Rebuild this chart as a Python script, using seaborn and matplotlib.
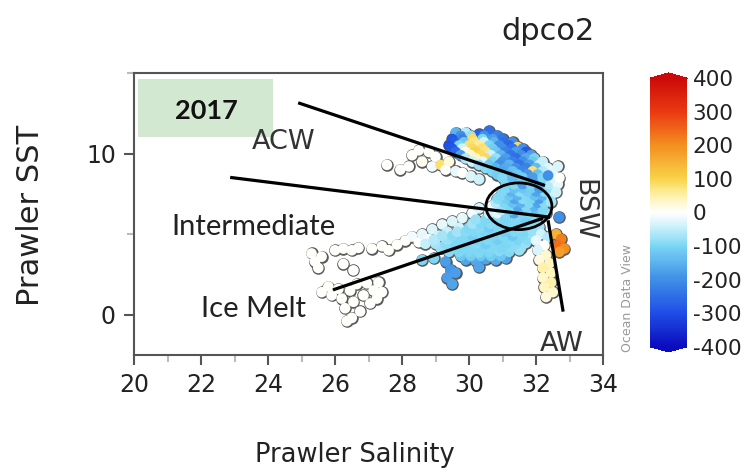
import matplotlib
matplotlib.use("Agg")
import matplotlib.pyplot as plt
import numpy as np
import pandas as pd
import seaborn as sns
from matplotlib.colors import LinearSegmentedColormap, Normalize
from matplotlib.patches import Ellipse, Rectangle
from matplotlib.ticker import MultipleLocator
from matplotlib.cm import ScalarMappable

# ---- observations: (salinity, SST, dpco2) grouped by water mass ----
ice_melt = [
    (25.6, 1.4, 0), (25.8, 1.75, 0), (25.9, 1.2, 0), (26.1, 1.6, 0), (26.2, 1.0, 0),
    (26.3, 0.4, 0), (26.45, 1.5, 0), (26.5, -0.2, 0), (26.55, 0.8, 0), (26.65, 1.9, 0),
    (26.75, 0.2, 0), (26.85, 1.2, 0), (26.95, 1.95, 0), (27.05, 0.7, 0), (27.15, 1.5, 0),
    (27.25, 1.0, 0), (27.3, 2.0, 0), (27.4, 1.4, 0), (26.35, -0.4, 0),
]
fresh_patches = [
    (25.3, 3.8, 0), (25.4, 3.3, 0), (25.5, 2.9, 0), (25.6, 3.6, 0),
    (26.25, 3.15, 0), (26.55, 2.75, 0),
    (26.0, 4.0, 0), (26.25, 4.1, 0), (26.5, 4.0, 0), (26.7, 4.15, 0),
    (27.1, 4.1, 0), (27.4, 4.25, 0), (27.6, 4.0, 0), (27.85, 4.35, 0),
]
intermediate = [
    (28.1, 4.6, 0), (28.3, 4.85, -10), (28.5, 4.5, 0), (28.6, 5.0, -20), (28.8, 4.7, -10),
    (28.9, 5.3, -30), (29.1, 4.9, -40), (29.2, 5.6, -20), (29.35, 5.15, -50), (29.5, 5.8, -30),
    (29.55, 4.7, -60), (29.7, 5.4, -40), (29.8, 6.0, -20), (29.95, 5.0, -70), (30.1, 6.3, -10),
    (30.3, 6.6, -30),
]
lower_band = [
    (29.9, 3.4, -170), (30.2, 3.35, -160), (30.5, 3.45, -170), (30.8, 3.4, -160), (31.1, 3.5, -170),
    (30.3, 2.95, -170),
    (29.75, 3.65, -120), (30.05, 3.65, -110), (30.35, 3.65, -120), (30.65, 3.65, -110), (30.95, 3.65, -120),
    (29.4, 3.9, -90), (29.7, 3.9, -95), (30.0, 3.9, -100), (30.3, 3.85, -95), (30.6, 3.9, -100),
    (30.9, 3.95, -90), (31.2, 3.9, -95), (31.5, 4.0, -80),
    (29.15, 4.15, -80), (29.45, 4.15, -90), (29.75, 4.15, -100), (30.05, 4.15, -95), (30.35, 4.15, -100),
    (30.65, 4.15, -95), (30.95, 4.15, -100), (31.25, 4.15, -90), (31.55, 4.15, -80),
    (28.7, 4.4, -50), (29.0, 4.4, -70), (29.3, 4.4, -90), (29.6, 4.4, -95), (29.9, 4.4, -100),
    (30.2, 4.4, -90), (30.5, 4.4, -110), (30.8, 4.4, -95), (31.1, 4.4, -100), (31.4, 4.4, -90),
    (31.7, 4.45, -80),
    (28.95, 4.65, -60), (29.35, 4.65, -80), (29.65, 4.65, -95), (29.95, 4.65, -95), (30.25, 4.65, -100),
    (30.55, 4.65, -95), (30.85, 4.65, -110), (31.15, 4.65, -95), (31.45, 4.65, -100), (31.75, 4.65, -90),
    (29.2, 4.9, -70), (29.5, 4.9, -90), (29.8, 4.9, -95), (30.1, 4.9, -110), (30.4, 4.9, -90),
    (30.7, 4.9, -100), (31.0, 4.9, -95), (31.3, 4.9, -120), (31.6, 4.9, -95), (31.9, 4.95, -80),
    (29.65, 5.15, -70), (29.9, 5.15, -90), (30.15, 5.15, -95), (30.45, 5.15, -100), (30.75, 5.15, -95),
    (31.05, 5.15, -110), (31.35, 5.15, -95), (31.65, 5.15, -100), (31.95, 5.15, -80),
    (30.0, 5.4, -95), (30.3, 5.4, -90), (30.6, 5.4, -110), (30.9, 5.4, -95), (31.2, 5.4, -100),
    (31.5, 5.4, -90), (31.8, 5.4, -95), (32.1, 5.45, -70),
    (30.1, 5.65, -70), (30.35, 5.65, -95), (30.65, 5.65, -90), (30.95, 5.65, -100), (31.25, 5.65, -95),
    (31.55, 5.65, -110), (31.85, 5.65, -90),
    (30.2, 5.9, -80), (30.5, 5.9, -95), (30.8, 5.9, -90), (31.1, 5.9, -100), (31.4, 5.9, -95),
    (31.7, 5.9, -110), (32.0, 5.9, -90),
    (29.3, 3.3, -180), (29.45, 2.8, -190), (29.35, 2.3, -180), (29.5, 1.9, -170), (29.6, 2.6, -180),
    (28.6, 3.4, -100), (28.95, 3.5, -100),
]
bsw_core = [
    (30.6, 6.3, -40), (30.85, 6.3, -20), (31.1, 6.3, -95), (31.35, 6.3, -170), (31.6, 6.3, -100),
    (31.85, 6.3, -90), (32.1, 6.3, -120), (32.3, 6.3, -80),
    (30.95, 6.5, -50), (31.25, 6.5, -110), (31.5, 6.5, -150), (31.75, 6.5, -100), (32.0, 6.5, -130),
    (32.2, 6.5, -95),
    (30.7, 6.75, -10), (30.95, 6.75, -80), (31.2, 6.75, -100), (31.45, 6.75, -170), (31.7, 6.75, -95),
    (31.95, 6.75, -150), (32.2, 6.75, -95),
    (30.8, 6.95, -60), (31.05, 6.95, -95), (31.3, 6.95, -130), (31.55, 6.95, -150), (31.8, 6.95, -95),
    (32.05, 6.95, -170), (32.25, 6.95, -90),
    (30.85, 7.2, -90), (31.1, 7.2, -110), (31.35, 7.2, -170), (31.6, 7.2, -90), (31.85, 7.2, -100),
    (32.1, 7.2, -180), (32.35, 7.2, -95),
    (30.95, 7.4, -95), (31.2, 7.4, -120), (31.45, 7.4, -150), (31.7, 7.4, -95), (31.95, 7.4, -130),
    (32.2, 7.4, -150), (32.45, 7.4, -70),
    (31.0, 7.65, -95), (31.25, 7.65, -150), (31.5, 7.65, -90), (31.75, 7.65, -110), (32.0, 7.65, -170),
    (32.25, 7.65, -90), (32.5, 7.65, -50),
    (31.1, 7.85, -95), (31.35, 7.85, -130), (31.6, 7.85, -120), (31.85, 7.85, -110), (32.1, 7.85, -180),
    (32.35, 7.85, -80),
    (31.1, 8.1, -100), (31.35, 8.1, -95), (31.6, 8.1, -180), (31.85, 8.1, -100), (32.1, 8.1, -160),
    (32.4, 8.1, -60), (32.65, 8.1, -20),
]
acw = [
    (29.6, 11.3, -150), (29.9, 11.3, -60), (30.3, 11.2, -270), (30.6, 11.4, -250),
    (29.75, 11.1, -200), (30.05, 11.1, -80), (30.45, 11.1, -200), (30.85, 11.1, -220),
    (29.5, 10.9, -290), (29.8, 10.9, -220), (30.1, 10.9, 90), (30.4, 10.9, -100), (30.7, 10.9, -180),
    (31.0, 10.9, -240),
    (29.55, 10.7, -280), (29.85, 10.7, -120), (30.15, 10.7, 70), (30.45, 10.7, -40), (30.75, 10.7, -150),
    (31.05, 10.7, -250), (31.3, 10.7, -200),
    (29.4, 10.5, -300), (29.7, 10.5, -100), (30.0, 10.5, 80), (30.3, 10.5, 60), (30.6, 10.5, -100),
    (30.9, 10.5, -200), (31.2, 10.5, -260), (31.45, 10.4, 90),
    (29.5, 10.3, -290), (29.8, 10.3, -40), (30.1, 10.3, 90), (30.4, 10.3, 80), (30.7, 10.3, -110),
    (31.0, 10.3, -200), (31.3, 10.3, -240), (31.6, 10.3, -200),
    (29.6, 10.1, -260), (29.9, 10.1, 20), (30.2, 10.1, 100), (30.5, 10.1, 70), (30.8, 10.1, -120),
    (31.1, 10.1, -220), (31.4, 10.1, -180), (31.7, 10.1, -280),
    (29.75, 9.9, -180), (30.05, 9.9, 30), (30.35, 9.9, 90), (30.65, 9.9, -40), (30.95, 9.9, -150),
    (31.25, 9.9, -240), (31.55, 9.9, -200), (31.85, 9.9, -180),
    (29.9, 9.7, -60), (30.2, 9.7, 40), (30.5, 9.7, 90), (30.8, 9.7, -80), (31.1, 9.7, -180),
    (31.4, 9.7, -250), (31.7, 9.7, -160), (31.95, 9.7, -100),
    (30.1, 9.5, -40), (30.4, 9.5, -20), (30.7, 9.5, -100), (31.0, 9.5, -190), (31.3, 9.5, -220),
    (31.6, 9.5, -200), (31.9, 9.5, -120), (32.2, 9.5, -50),
    (30.3, 9.3, -80), (30.6, 9.3, -120), (30.9, 9.3, -200), (31.2, 9.3, -150), (31.5, 9.3, -240),
    (31.8, 9.3, -180), (32.1, 9.3, -50),
    (30.5, 9.1, -90), (30.8, 9.1, -150), (31.1, 9.1, -160), (31.4, 9.1, -200), (31.7, 9.1, -220),
    (32.0, 9.1, -140), (32.35, 9.1, -30),
    (30.7, 8.9, -100), (31.0, 8.9, -170), (31.3, 8.9, -130), (31.6, 8.9, -210), (31.9, 8.9, 80),
    (32.2, 8.9, -60), (32.5, 8.9, -20),
    (30.85, 8.7, -110), (31.15, 8.7, -150), (31.45, 8.7, -120), (31.75, 8.7, -190), (32.05, 8.7, -130),
    (32.35, 8.7, -50),
    (31.0, 8.5, -95), (31.3, 8.5, -140), (31.6, 8.5, -110), (31.9, 8.5, -180), (32.2, 8.5, -100),
    (32.5, 8.5, -30), (32.7, 8.5, 0),
    (32.65, 9.2, -30), (32.36, 8.64, -200), (32.6, 7.6, -40), (32.45, 7.0, -70),
]
acw_fringe = [
    (27.55, 9.3, 0), (27.95, 9.0, 0), (28.2, 9.2, 0), (28.3, 9.9, 0), (28.5, 10.2, 0),
    (28.6, 9.5, 10), (28.8, 10.1, 0), (28.9, 9.2, -10), (29.0, 9.8, 0), (29.15, 9.3, 80),
    (29.3, 9.0, 0), (29.4, 9.5, 20), (29.6, 8.9, -20), (29.8, 8.8, 0), (30.05, 8.6, -30),
    (30.3, 8.4, -40),
]
aw_column = [
    (31.9, 5.2, -80), (32.15, 5.0, -40), (32.35, 4.8, -60), (32.0, 4.6, -20), (32.25, 4.3, 0),
    (32.05, 4.0, -30), (32.3, 3.7, 30), (32.1, 3.4, 20), (32.4, 3.2, 40), (32.2, 2.9, 50),
    (32.45, 2.6, 40), (32.2, 2.3, 30), (32.45, 2.0, 50), (32.25, 1.7, 40), (32.5, 1.4, 30),
    (32.3, 1.1, 20), (32.69, 6.05, -200),
]
aw_warm = [
    (32.6, 5.0, 150), (32.75, 4.7, 220), (32.65, 4.3, 240), (32.85, 4.1, 200), (32.7, 3.9, 180),
]

# ---- mixing lines towards each end member ----
endmember_labels = ["ACW", "Intermediate", "Ice Melt", "AW"]
line_start_sal = [24.90, 22.87, 25.94, 32.81]
line_start_sst = [13.15, 8.52, 1.54, 0.19]
line_end_sal = [32.27, 32.42, 32.21, 32.36]
line_end_sst = [8.02, 6.05, 5.99, 5.86]

cbar_ticks = [-400, -300, -200, -100, 0, 100, 200, 300, 400]
x_ticks = [20, 22, 24, 26, 28, 30, 32, 34]
y_ticks = [0, 10]

points = (ice_melt + fresh_patches + intermediate + lower_band + bsw_core
          + acw + acw_fringe + aw_column + aw_warm)
df = pd.DataFrame(points, columns=["salinity", "sst", "dpco2"])

# ODV-like diverging palette
cmap = LinearSegmentedColormap.from_list(
    "odv",
    [(0.0, "#0c0cbf"), (0.125, "#1f4fe6"), (0.25, "#3f8fe6"), (0.375, "#7ad6f4"),
     (0.44, "#c6eff9"), (0.5, "#ffffff"), (0.56, "#fff3b0"), (0.625, "#f8d44a"),
     (0.75, "#f39020"), (0.875, "#eb3a12"), (1.0, "#cc0a0a")],
)
norm = Normalize(-400, 400)

sns.set_style("white")
plt.rcParams["font.family"] = ["DejaVu Sans"]

fig = plt.figure(figsize=(7.45, 4.73), dpi=100)
ax = fig.add_axes([0.1799, 0.2495, 0.6295, 0.5962])

# outline layer then fill layer, so touching points share one outline
sns.scatterplot(data=df, x="salinity", y="sst", color="#5a5a5a", s=82,
                linewidth=0, ax=ax, legend=False, zorder=2)
sns.scatterplot(data=df, x="salinity", y="sst", hue="dpco2", palette=cmap,
                hue_norm=(-400, 400), s=58, linewidth=0, ax=ax, legend=False, zorder=3)

for xs, ys, xe, ye in zip(line_start_sal, line_start_sst, line_end_sal, line_end_sst):
    ax.plot([xs, xe], [ys, ye], color="black", lw=2.3, solid_capstyle="butt", zorder=5)
ax.add_patch(Ellipse((31.49, 6.73), 1.97, 2.9, fill=False, edgecolor="black", lw=2.0, zorder=5))

ax.add_patch(Rectangle((20.12, 11.05), 4.03, 3.58, facecolor="#d3e8d1", edgecolor="none", zorder=1))
ax.text(22.15, 12.16, "2017", family=["Lato", "DejaVu Sans"], fontweight="bold",
        fontsize=19.5, ha="center", va="baseline", color="#111111", zorder=6)
ax.text(24.48, 10.31, "ACW", fontsize=19.5, ha="center", va="baseline", color="#333333", zorder=6)
ax.text(23.58, 4.94, "Intermediate", family=["Lato", "DejaVu Sans"], fontsize=21,
        ha="center", va="baseline", color="#222222", zorder=6)
ax.text(23.58, -0.12, "Ice Melt", family=["Lato", "DejaVu Sans"], fontsize=21,
        ha="center", va="baseline", color="#222222", zorder=6)
ax.text(33.4, 6.48, "BSW", fontsize=19.5, rotation=-90, ha="center", va="center",
        color="#333333", zorder=6)
ax.text(32.78, -2.28, "AW", fontsize=19.5, ha="center", va="baseline", color="#333333", zorder=6)

ax.set_xlim(20, 34)
ax.set_ylim(-2.5, 15)
ax.set_xticks(x_ticks)
ax.set_yticks(y_ticks)
ax.xaxis.set_minor_locator(MultipleLocator(1))
ax.yaxis.set_minor_locator(MultipleLocator(5))
ax.tick_params(which="major", direction="out", length=7, width=1.5, color="#555555",
               labelsize=17, labelcolor="#222222", bottom=True, left=True, pad=6)
ax.tick_params(which="minor", direction="out", length=5, width=1.5, color="#bbbbbb",
               bottom=True, left=True)
for side in ["top", "right", "bottom", "left"]:
    ax.spines[side].set_color("#555555")
    ax.spines[side].set_linewidth(1.5)

ax.set_xlabel("Prawler Salinity", fontsize=18.5, color="#222222")
ax.set_ylabel("Prawler SST", fontsize=22, color="#222222")
ax.xaxis.set_label_coords(0.471, -0.31)
ax.yaxis.set_label_coords(-0.19, 0.496)

fig.text(0.7356, 0.9154, "dpco2", fontsize=22, ha="center", va="baseline", color="#222222")

cax = fig.add_axes([0.8725, 0.2558, 0.0497, 0.59])
sm = ScalarMappable(norm=norm, cmap=cmap)
cbar = fig.colorbar(sm, cax=cax, extend="both", extendfrac=0.02, ticks=cbar_ticks)
cbar.ax.set_yticklabels([str(t) for t in cbar_ticks])
cbar.outline.set_visible(False)
cax.tick_params(direction="in", length=6, width=1.5, color="#333333", left=True, right=True,
                labelsize=15.5, labelcolor="#222222", pad=4)
fig.text(0.8417, 0.256, "Ocean Data View", fontsize=9, rotation=90, ha="center",
         va="bottom", color="#999999")

fig.savefig("out.png", dpi=100)
